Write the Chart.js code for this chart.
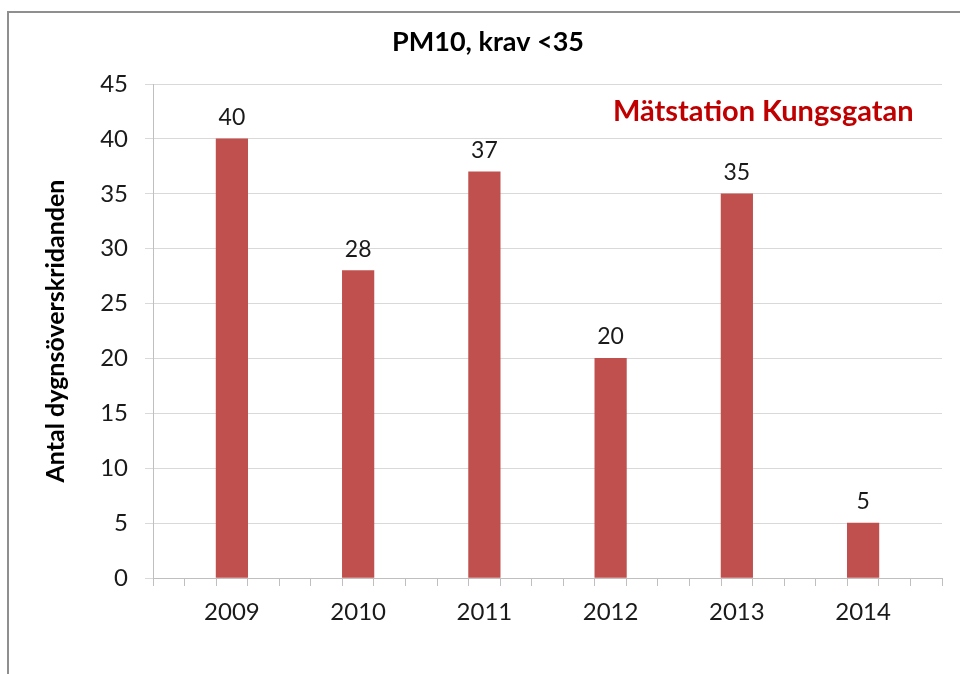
<!DOCTYPE html>
<html>
<head>
<meta charset="utf-8">
<script src="https://cdn.jsdelivr.net/npm/chart.js@4"></script>
<style>
html,body{margin:0;padding:0;background:#fff;}
#wrap{width:960px;height:674px;position:relative;}
</style>
</head>
<body>
<div id="wrap"><canvas id="c" width="960" height="674"></canvas></div>
<script>
// ---- data ----
const years = ['2009', '2010', '2011', '2012', '2013', '2014'];
const values = [40, 28, 37, 20, 35, 5];
const yTicks = [0, 5, 10, 15, 20, 25, 30, 35, 40, 45];
const titleText = 'PM10, krav <35';
const stationText = 'Mätstation Kungsgatan';
const yTitle = 'Antal dygnsöverskridanden';

// axis slots: each year occupies 4 slots, bar in slot offset 2, 25 slots total
const SLOTS = 25, STEP = 4, LEAD = 2;
const labels = Array.from({length: SLOTS}, () => '');
const slotData = Array.from({length: SLOTS}, () => null);
years.forEach((y, i) => { labels[LEAD + i * STEP] = y; slotData[LEAD + i * STEP] = values[i]; });

const FONT = 'Lato';

const deco = {
  id: 'deco',
  beforeDraw(chart) {
    const ctx = chart.ctx;
    ctx.save();
    ctx.strokeStyle = '#8f8f8f';
    ctx.lineWidth = 2;
    ctx.beginPath();
    ctx.moveTo(8, 674);
    ctx.lineTo(8, 12);
    ctx.lineTo(960, 12);
    ctx.stroke();
    ctx.restore();
  },
  afterDraw(chart) {
    const ctx = chart.ctx;
    ctx.save();
    // title
    ctx.fillStyle = '#000';
    ctx.font = 'bold 27px ' + FONT;
    ctx.textAlign = 'center';
    ctx.textBaseline = 'alphabetic';
    ctx.fillText(titleText, 488, 51);
    // station label
    ctx.fillStyle = '#c00000';
    ctx.font = 'bold 29px ' + FONT;
    ctx.textAlign = 'left';
    ctx.fillText(stationText, 613, 121);
    // data labels
    const meta = chart.getDatasetMeta(0);
    ctx.fillStyle = '#1a1a1a';
    ctx.font = '23px ' + FONT;
    ctx.textAlign = 'center';
    meta.data.forEach((bar, i) => {
      const v = chart.data.datasets[0].data[i];
      if (v === null || v === undefined) return;
      ctx.fillText(String(v), bar.x, bar.y - 14);
    });
    ctx.restore();
  }
};

function build() {
  Chart.defaults.font.family = FONT;
  new Chart(document.getElementById('c'), {
    type: 'bar',
    data: {
      labels: labels,
      datasets: [{
        data: slotData,
        backgroundColor: '#c0504d',
        borderColor: '#c0504d',
        borderWidth: 0,
        barPercentage: 1.0,
        categoryPercentage: 1.0
      }]
    },
    options: {
      responsive: false,
      animation: false,
      devicePixelRatio: 1,
      layout: { padding: { top: 84, right: 18, left: 0, bottom: 0 } },
      plugins: { legend: { display: false }, tooltip: { enabled: false }, title: { display: false } },
      scales: {
        x: {
          offset: true,
          grid: { offset: true, drawOnChartArea: false, drawTicks: true, tickLength: 8, color: '#bfbfbf', lineWidth: 1 },
          border: { display: true, color: '#bfbfbf', width: 1 },
          ticks: { autoSkip: false, maxRotation: 0, minRotation: 0, color: '#1a1a1a', font: { size: 24 }, padding: 12 },
          afterFit(s) { s.height = 96; }
        },
        y: {
          min: 0, max: 45,
          afterBuildTicks(s) { s.ticks = yTicks.map(v => ({ value: v })); },
          grid: { color: '#d9d9d9', lineWidth: 1, tickLength: 8, drawTicks: true },
          border: { display: true, color: '#bfbfbf', width: 1 },
          ticks: { color: '#1a1a1a', font: { size: 24 }, padding: 17 },
          title: { display: true, text: yTitle, color: '#000', font: { size: 25, weight: 'bold' }, padding: { top: 41, bottom: 0 } },
          afterFit(s) { s.width = 153; }
        }
      }
    },
    plugins: [deco]
  });
}
if (document.fonts && document.fonts.load) {
  Promise.all([
    document.fonts.load('24px Lato'),
    document.fonts.load('bold 24px Lato')
  ]).then(build, build);
} else { build(); }
</script>
</body>
</html>
